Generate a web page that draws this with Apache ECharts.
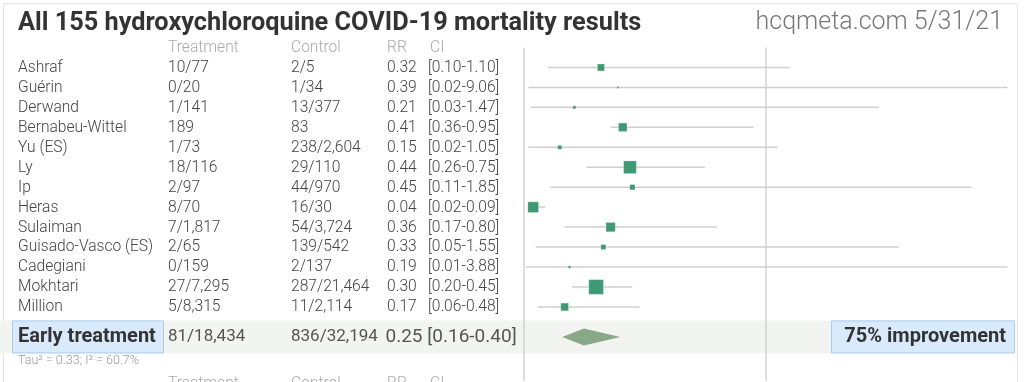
<!DOCTYPE html>
<html><head><meta charset="utf-8">
<script src="https://cdn.jsdelivr.net/npm/echarts@6/dist/echarts.min.js"></script>
<style>html,body{margin:0;padding:0;background:#fff;}#c{width:1024px;height:382px;}</style>
</head><body><div id="c"></div>
<script>
const titleText = "All 155 hydroxychloroquine COVID-19 mortality results";
const sourceText = "hcqmeta.com 5/31/21";
const headers = ["Treatment", "Control", "RR", "CI"];
const names = ["Ashraf","Guérin","Derwand","Bernabeu-Wittel","Yu (ES)","Ly","Ip","Heras","Sulaiman","Guisado-Vasco (ES)","Cadegiani","Mokhtari","Million"];
const treatment = ["10/77","0/20","1/141","189","1/73","18/116","2/97","8/70","7/1,817","2/65","0/159","27/7,295","5/8,315"];
const control = ["2/5","1/34","13/377","83","238/2,604","29/110","44/970","16/30","54/3,724","139/542","2/137","287/21,464","11/2,114"];
const rr = [0.32,0.39,0.21,0.41,0.15,0.44,0.45,0.04,0.36,0.33,0.19,0.30,0.17];
const ciLow = [0.10,0.02,0.03,0.36,0.02,0.26,0.11,0.02,0.17,0.05,0.01,0.20,0.06];
const ciHigh = [1.10,9.06,1.47,0.95,1.05,0.75,1.85,0.09,0.80,1.55,3.88,0.45,0.48];
const weights = [7,2,3,8.5,4,12.7,5.3,10.7,9.3,5,2.5,14.7,7.7];
const summaryLabel = "Early treatment";
const summaryTreatment = "81/18,434";
const summaryControl = "836/32,194";
const summaryRR = 0.25, summaryLow = 0.16, summaryHigh = 0.40;
const hetText = "Tau² = 0.33; I² = 60.7%";

const fmt = v => v.toFixed(2);
const XMAX = 2;
const SUMROW = 13.5, HETROW = 14.7, NEXTHEAD = 15.85;
const colX = [18, 168, 291, 387, 430];
const FONT = "Roboto";

const chart = echarts.init(document.getElementById('c'), null, {renderer: 'canvas'});

function txt(text, x, y, font, fill, align) {
  return {type: 'text', style: {text: text, x: x, y: y, font: font, fill: fill,
    textAlign: align || 'left', textVerticalAlign: 'middle', align: align || 'left', verticalAlign: 'middle'}};
}

const rows = names.map((n, i) => [i]);

const option = {
  animation: false,
  grid: {left: 523.5, width: 484, top: 47.5, bottom: 1.2, containLabel: false},
  xAxis: {type: 'value', min: 0, max: XMAX, show: false},
  yAxis: {type: 'value', min: -1, max: 15.7, inverse: true, show: false},
  graphic: [
    {type: 'rect', z: 0, shape: {x: 3.5, y: 3.5, width: 1014, height: 400}, style: {fill: 'none', stroke: '#e4e4e4', lineWidth: 1}},
    {type: 'text', z: 10, x: 18, y: 24, style: {text: titleText, font: 'bold 25.3px ' + FONT, fill: '#333', textVerticalAlign: 'middle', verticalAlign: 'middle'}},
    {type: 'text', z: 10, x: 1003, y: 23, style: {text: sourceText, font: '300 25px ' + FONT, fill: '#777', textAlign: 'right', align: 'right', textVerticalAlign: 'middle', verticalAlign: 'middle'}}
  ],
  series: [
    { // summary band
      type: 'custom', z: 1, silent: true, clip: false,
      data: [[SUMROW]],
      renderItem: function (params, api) {
        const y = api.coord([0, api.value(0)])[1];
        return {type: 'rect', shape: {x: 0, y: y - 16.5, width: 1015, height: 33}, style: {fill: '#f2f4f1'}};
      }
    },
    { // reference lines
      type: 'scatter', z: 2, silent: true, data: [],
      markLine: {silent: true, symbol: 'none', label: {show: false},
        lineStyle: {color: '#d2d2d2', width: 1.5, type: 'solid'},
        data: [{xAxis: 0}, {xAxis: 1}]}
    },
    { // studies
      type: 'custom', z: 3, silent: true, clip: false,
      data: rows,
      renderItem: function (params, api) {
        const i = api.value(0);
        const lo = api.coord([Math.max(0, ciLow[i]), i]);
        const hi = api.coord([Math.min(XMAX, ciHigh[i]), i]);
        const c = api.coord([rr[i], i]);
        const s = weights[i];
        return {type: 'group', children: [
          {type: 'line', shape: {x1: lo[0], y1: lo[1], x2: hi[0], y2: hi[1]}, style: {stroke: '#cfcfcf', lineWidth: 1.5}},
          {type: 'rect', shape: {x: c[0] - s / 2, y: c[1] - s / 2, width: s, height: s}, style: {fill: '#3e9a74', stroke: 'rgba(255,255,255,0.5)', lineWidth: 0.5}}
        ]};
      }
    },
    { // summary diamond + labels
      type: 'custom', z: 4, silent: true, clip: false,
      data: [[SUMROW]],
      renderItem: function (params, api) {
        const r = api.value(0);
        const lo = api.coord([summaryLow, r]);
        const hi = api.coord([summaryHigh, r]);
        const c = api.coord([summaryRR, r]);
        const y = c[1];
        const imp = Math.round((1 - summaryRR) * 100) + "% improvement";
        const sf = '400 17px ' + FONT;
        return {type: 'group', children: [
          {type: 'polygon', shape: {points: [[lo[0], y], [c[0], y - 8.5], [hi[0], y], [c[0], y + 8.5]]}, style: {fill: '#88a888'}},
          {type: 'rect', shape: {x: 12.5, y: y - 16, width: 151, height: 32}, style: {fill: '#d8eafc', stroke: '#a9cdee', lineWidth: 1}},
          txt(summaryLabel, 18, y, 'bold 20px ' + FONT, '#333'),
          txt(summaryTreatment, colX[1], y, sf, '#555'),
          txt(summaryControl, colX[2], y, sf, '#555'),
          txt(fmt(summaryRR) + ' [' + fmt(summaryLow) + '-' + fmt(summaryHigh) + ']', 385.5, y, '400 19px ' + FONT, '#555'),
          {type: 'rect', shape: {x: 831.5, y: y - 16, width: 183, height: 32}, style: {fill: '#d8eafc', stroke: '#a9cdee', lineWidth: 1}},
          txt(imp, 1006, y, 'bold 20px ' + FONT, '#333', 'right')
        ]};
      }
    },
    { // table text
      type: 'custom', z: 5, silent: true, clip: false,
      data: rows,
      renderItem: function (params, api) {
        const i = api.value(0);
        const y = api.coord([0, i])[1] + 0.5;
        const f = '300 15.6px ' + FONT;
        const col = '#444';
        const children = [
          txt(names[i], colX[0], y, f, col),
          txt(treatment[i], colX[1], y, f, col),
          txt(control[i], colX[2], y, f, col),
          txt(fmt(rr[i]), colX[3], y, f, col),
          txt('[' + fmt(ciLow[i]) + '-' + fmt(ciHigh[i]) + ']', colX[4] - 2, y, f, col)
        ];
        if (i === 0) {
          const yh = api.coord([0, -1])[1] + 0.5;
          const yn = api.coord([0, NEXTHEAD])[1];
          const yt = api.coord([0, HETROW])[1];
          headers.forEach((h, k) => {
            children.push(txt(h, colX[k + 1], yh, f, '#aaa'));
            children.push(txt(h, colX[k + 1], yn, f, '#aaa'));
          });
          children.push(txt(hetText, 18, yt, '300 12.5px ' + FONT, '#999'));
        }
        return {type: 'group', children: children};
      }
    }
  ]
};
chart.setOption(option);
</script></body></html>
